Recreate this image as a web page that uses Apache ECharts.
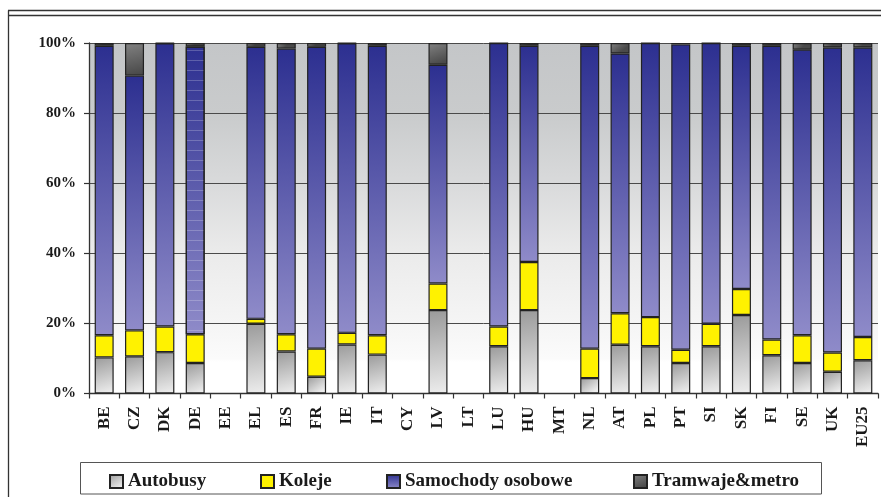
<!DOCTYPE html>
<html>
<head>
<meta charset="utf-8">
<script src="https://cdn.jsdelivr.net/npm/echarts@6/dist/echarts.min.js"></script>
<style>
  html, body { margin: 0; padding: 0; background: #ffffff; }
  #chart { width: 881px; height: 497px; }
</style>
</head>
<body>
<div id="chart"></div>
<script>
// Modal split of passenger transport (% of passenger-km), by country
const countries = ['BE','CZ','DK','DE','EE','EL','ES','FR','IE','IT','CY','LV','LT','LU','HU','MT','NL','AT','PL','PT','SI','SK','FI','SE','UK','EU25'];

const autobusy = [10.3, 10.6, 11.8, 8.7, null, 19.9, 12.0, 4.8, 14.0, 11.1, null, 23.8, null, 13.5, 23.8, null, 4.4, 13.9, 13.5, 8.7, 13.5, 22.4, 10.9, 8.7, 6.2, 9.5];
const koleje   = [6.3, 7.4, 7.3, 8.2, null, 1.4, 4.9, 8.0, 3.3, 5.5, null, 7.6, null, 5.6, 13.7, null, 8.4, 9.0, 8.3, 3.8, 6.4, 7.4, 4.5, 7.9, 5.5, 6.6];
const samochody = [82.6, 72.7, 80.8, 82.1, null, 77.6, 81.5, 86.1, 82.6, 82.6, null, 62.4, null, 80.9, 61.7, null, 86.4, 74.1, 78.2, 87.1, 80.1, 69.4, 83.8, 81.5, 87.0, 82.6];
const tramwaje = [0.8, 9.3, 0.1, 1.0, null, 1.1, 1.6, 1.1, 0.1, 0.8, null, 6.2, null, 0.0, 0.8, null, 0.8, 3.0, 0.0, 0.4, 0.0, 0.8, 0.8, 1.9, 1.3, 1.3];

const yTicks = [0, 20, 40, 60, 80, 100];

const SERIF = '"Liberation Serif", "DejaVu Serif", serif';

const grad = (x2, y2, c0, c1) => new echarts.graphic.LinearGradient(0, 0, x2, y2, [
  { offset: 0, color: c0 }, { offset: 1, color: c1 }
]);

const busColor  = grad(0.6, 1, '#9a9a9a', '#ececec');
const railColor = '#fff200';
const carColor  = grad(0, 1, '#2c2f90', '#8f8bc9');
const tramColor = grad(0.4, 1, '#828282', '#4a4a4a');

const border = { borderColor: '#222222', borderWidth: 1.2 };

// Germany's car segment carries a fine horizontal hatch
const carData = samochody.map((v, i) => countries[i] === 'DE'
  ? { value: v, itemStyle: { decal: {
        symbol: 'rect', symbolSize: 1,
        dashArrayX: [1, 0], dashArrayY: [1, 9],
        color: 'rgba(255,255,255,0.22)', rotation: 0 } } }
  : v);

const chart = echarts.init(document.getElementById('chart'), null, { renderer: 'canvas' });

const legendItem = (name, left) => ({
  data: [name],
  left: left, top: 472,
  padding: 0,
  itemWidth: 13, itemHeight: 13,
  icon: 'rect',
  selectedMode: false,
  textStyle: { fontFamily: SERIF, fontSize: 19, fontWeight: 'bold', color: '#1a1a1a' }
});

chart.setOption({
  animation: false,
  backgroundColor: '#ffffff',
  textStyle: { fontFamily: SERIF },
  graphic: [
    { type: 'line', shape: { x1: 8, y1: 10.5, x2: 881, y2: 10.5 }, style: { stroke: '#333', lineWidth: 1.3 } },
    { type: 'line', shape: { x1: 8, y1: 15.5, x2: 881, y2: 15.5 }, style: { stroke: '#333', lineWidth: 1.3 } },
    { type: 'line', shape: { x1: 8.5, y1: 10.5, x2: 8.5, y2: 497 }, style: { stroke: '#333', lineWidth: 1.3 } },
    { type: 'rect', shape: { x: 80.5, y: 462.5, width: 741, height: 31.5 }, style: { fill: '#ffffff', stroke: '#555', lineWidth: 1 } }
  ],
  legend: [
    legendItem('Autobusy', 109),
    legendItem('Koleje', 260),
    legendItem('Samochody osobowe', 386),
    legendItem('Tramwaje&metro', 633)
  ],
  grid: {
    left: 89, right: 3, top: 43, bottom: 103.5,
    show: true, borderWidth: 0,
    backgroundColor: new echarts.graphic.LinearGradient(0, 0, 0, 1, [
      { offset: 0, color: '#c4c6c8' },
      { offset: 0.2, color: '#c9cbcc' },
      { offset: 0.4, color: '#d9dadb' },
      { offset: 0.6, color: '#ebebeb' },
      { offset: 0.8, color: '#f5f5f5' },
      { offset: 0.9, color: '#fbfbfb' },
      { offset: 0.91, color: '#ffffff' },
      { offset: 1, color: '#ffffff' }
    ])
  },
  xAxis: {
    type: 'category',
    data: countries,
    boundaryGap: true,
    axisLine: { lineStyle: { color: '#333', width: 1.3 } },
    axisTick: { show: true, length: 5, interval: 0, lineStyle: { color: '#333', width: 1.2 } },
    axisLabel: {
      interval: 0, rotate: 90, margin: 13,
      fontFamily: SERIF, fontSize: 17, fontWeight: 'bold', color: '#1a1a1a'
    }
  },
  yAxis: {
    type: 'value',
    min: yTicks[0], max: yTicks[yTicks.length - 1], interval: 20,
    axisLine: { show: true, lineStyle: { color: '#333', width: 1.3 } },
    axisTick: { show: true, length: 5, lineStyle: { color: '#333', width: 1.2 } },
    splitLine: { show: true, lineStyle: { color: '#4a4a4a', width: 1 } },
    axisLabel: {
      margin: 13,
      formatter: '{value}%',
      fontFamily: SERIF, fontSize: 15, fontWeight: 'bold', color: '#1a1a1a'
    }
  },
  series: [
    { name: 'Autobusy', type: 'bar', stack: 'modal', barWidth: 19, data: autobusy,
      itemStyle: Object.assign({ color: busColor }, border) },
    { name: 'Koleje', type: 'bar', stack: 'modal', barWidth: 19, data: koleje,
      itemStyle: Object.assign({ color: railColor }, border) },
    { name: 'Samochody osobowe', type: 'bar', stack: 'modal', barWidth: 19, data: carData,
      itemStyle: Object.assign({ color: carColor }, border) },
    { name: 'Tramwaje&metro', type: 'bar', stack: 'modal', barWidth: 19, data: tramwaje,
      itemStyle: Object.assign({ color: tramColor }, border) }
  ]
});
</script>
</body>
</html>
